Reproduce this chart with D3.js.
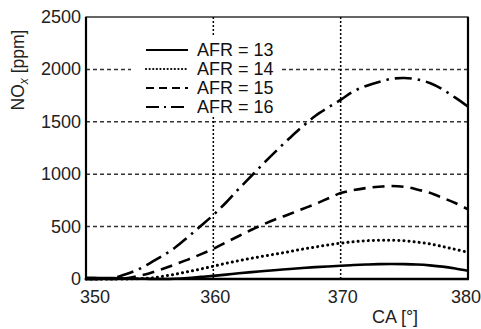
<!DOCTYPE html>
<html>
<head>
<meta charset="utf-8">
<script src="https://cdn.jsdelivr.net/npm/d3@7"></script>
<style>
  body { margin: 0; background: #fff; }
  svg { display: block; font-family: Arial, "Liberation Sans", sans-serif; }
</style>
</head>
<body>
<svg width="481" height="329"></svg>
<script>
const ca = d3.range(350, 381);

const afr13 = [12, 10, 8, 5, 3, 1, 0, 3, 10, 20, 30, 42, 55, 66, 76, 86, 96, 105, 113, 120, 127, 133, 138, 142, 143, 142, 138, 130, 118, 100, 78];
const afr14 = [0, 0, 0, 0, 3, 8, 25, 45, 70, 95, 122, 150, 175, 198, 220, 240, 262, 285, 305, 325, 342, 355, 365, 370, 370, 365, 352, 335, 310, 283, 255];
const afr15 = [0, 0, 0, 5, 25, 55, 95, 140, 185, 235, 288, 350, 410, 470, 525, 575, 620, 668, 715, 768, 820, 848, 868, 880, 887, 880, 855, 822, 775, 725, 665];
const afr16 = [0, 0, 5, 40, 85, 150, 220, 300, 400, 505, 611, 730, 860, 985, 1110, 1230, 1345, 1455, 1555, 1635, 1710, 1790, 1842, 1880, 1910, 1918, 1905, 1870, 1810, 1730, 1645];

const seriesNames = ['AFR = 13', 'AFR = 14', 'AFR = 15', 'AFR = 16'];
const xTicks = [350, 360, 370, 380];
const yTicks = [0, 500, 1000, 1500, 2000, 2500];

const series = [afr13, afr14, afr15, afr16];
const dashes = [null, '0.1 5', '12 7', '17 6 2.5 6'];

const svg = d3.select('svg');
const x = d3.scaleLinear().domain([350, 380]).range([86, 468]);
const y = d3.scaleLinear().domain([0, 2500]).range([279, 17]);

// grid
svg.append('g')
  .selectAll('line')
  .data(yTicks.filter(d => d > 0 && d < 2500))
  .join('line')
  .attr('x1', x(350)).attr('x2', x(380))
  .attr('y1', d => y(d)).attr('y2', d => y(d))
  .attr('stroke', '#333').attr('stroke-width', 1.5)
  .attr('stroke-dasharray', '4 3');

svg.append('g')
  .selectAll('line')
  .data([360, 370])
  .join('line')
  .attr('x1', d => x(d)).attr('x2', d => x(d))
  .attr('y1', y(0)).attr('y2', y(2500))
  .attr('stroke', '#000').attr('stroke-width', 1.5)
  .attr('stroke-dasharray', '2 2');

// curves
let line = d3.line()
  .x((d, i) => x(ca[i]))
  .y(d => y(d))
  .curve(d3.curveCatmullRom);

series.forEach((s, i) => {
  svg.append('path')
    .attr('d', line(s))
    .attr('fill', 'none')
    .attr('stroke', '#000')
    .attr('stroke-width', i === 1 ? 3 : 2.6)
    .attr('stroke-linecap', i === 1 ? 'round' : 'butt')
    .attr('stroke-dasharray', dashes[i]);
});

// legend
svg.append('rect')
  .attr('x', 131).attr('y', 37).attr('width', 150).attr('height', 80)
  .attr('fill', '#fff');

const legendDashes = [null, '0.1 3.5', '8 5', '13 5 2 5'];
seriesNames.forEach((name, i) => {
  let ly = 50 + i * 19;
  svg.append('line')
    .attr('x1', 146).attr('x2', 188)
    .attr('y1', ly).attr('y2', ly)
    .attr('stroke', '#000')
    .attr('stroke-width', 2.2)
    .attr('stroke-linecap', i === 1 ? 'round' : 'butt')
    .attr('stroke-dasharray', legendDashes[i]);
  svg.append('text')
    .attr('x', 197).attr('y', ly + 6)
    .attr('font-size', 18)
    .attr('fill', '#111')
    .text(name);
});

// frame
svg.append('rect')
  .attr('x', x(350)).attr('y', y(2500))
  .attr('width', x(380) - x(350)).attr('height', y(0) - y(2500))
  .attr('fill', 'none').attr('stroke', '#000').attr('stroke-width', 1.2);
svg.append('line')
  .attr('x1', x(350)).attr('x2', x(350)).attr('y1', y(2500)).attr('y2', y(0))
  .attr('stroke', '#000').attr('stroke-width', 2.2);
svg.append('line')
  .attr('x1', x(380)).attr('x2', x(380)).attr('y1', y(2500)).attr('y2', y(0))
  .attr('stroke', '#000').attr('stroke-width', 2.2);
svg.append('line')
  .attr('x1', x(350) - 1).attr('x2', x(380) + 1).attr('y1', y(0)).attr('y2', y(0))
  .attr('stroke', '#000').attr('stroke-width', 2.6);

// tick labels
svg.append('g')
  .selectAll('text')
  .data(yTicks)
  .join('text')
  .attr('x', 81).attr('y', d => y(d) + 6)
  .attr('text-anchor', 'end')
  .attr('font-size', 18).attr('fill', '#222')
  .text(d => d);

svg.append('g')
  .selectAll('text')
  .data(xTicks)
  .join('text')
  .attr('x', (d, i) => x(d) + (i === 0 ? 9 : i === 3 ? -2 : 2))
  .attr('y', 303)
  .attr('text-anchor', 'middle')
  .attr('font-size', 18).attr('fill', '#222')
  .text(d => d);

svg.append('text')
  .attr('x', 395).attr('y', 323)
  .attr('text-anchor', 'middle')
  .attr('font-size', 18).attr('fill', '#222')
  .text('CA [°]');

let yl = svg.append('text')
  .attr('transform', 'translate(24,70) rotate(-90)')
  .attr('text-anchor', 'middle')
  .attr('font-size', 17.5).attr('fill', '#222');
yl.append('tspan').text('NO');
yl.append('tspan').attr('font-size', 12).attr('dy', 4).attr('font-style', 'italic').text('x');
yl.append('tspan').attr('dy', -4).text(' [ppm]');
</script>
</body>
</html>
